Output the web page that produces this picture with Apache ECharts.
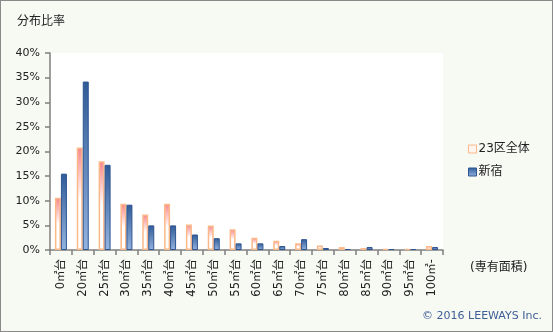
<!DOCTYPE html>
<html>
<head>
<meta charset="utf-8">
<script src="https://cdn.jsdelivr.net/npm/echarts@6/dist/echarts.min.js"></script>
<style>
  html, body { margin: 0; padding: 0; background: #f7f9f3; }
  #chart { width: 551px; height: 330px; border: 1px solid #8a8a8a; background: #f7f9f3; }
</style>
</head>
<body>
<div id="chart"></div>
<script>
// Floor-area bands (専有面積)
const categories = ['0㎡台', '20㎡台', '25㎡台', '30㎡台', '35㎡台', '40㎡台', '45㎡台', '50㎡台', '55㎡台',
  '60㎡台', '65㎡台', '70㎡台', '75㎡台', '80㎡台', '85㎡台', '90㎡台', '95㎡台', '100㎡-'];

// Share of units per band, in percent
const ward23Values = [10.6, 20.8, 18.0, 9.4, 7.2, 9.4, 5.2, 5.0, 4.2, 2.5, 1.9, 1.35, 0.9, 0.6, 0.4, 0.2, 0.2, 0.8];
const shinjukuValues = [15.5, 34.2, 17.3, 9.2, 5.0, 5.0, 3.15, 2.4, 1.35, 1.35, 0.8, 2.2, 0.4, 0.2, 0.6, 0.2, 0.2, 0.6];

const yTicks = { min: 0, max: 40, interval: 5 };

const font = "'DejaVu Sans', 'Noto Sans CJK JP', sans-serif";

const chart = echarts.init(document.getElementById('chart'), null, { renderer: 'canvas' });

const pinkFill = new echarts.graphic.LinearGradient(0, 0, 0, 1, [
  { offset: 0, color: '#f8868a' },
  { offset: 0.5, color: '#ffffff' },
  { offset: 1, color: '#ffffff' }
]);
const blueFill = new echarts.graphic.LinearGradient(0, 0, 0, 1, [
  { offset: 0, color: '#2f5b98' },
  { offset: 1, color: '#94b3df' }
]);

chart.setOption({
  animation: false,
  backgroundColor: '#f7f9f3',
  textStyle: { fontFamily: font },
  title: {
    text: '分布比率',
    left: 11, top: 10,
    textStyle: { fontSize: 12, fontWeight: 'normal', color: '#222', fontFamily: font }
  },
  legend: {
    orient: 'vertical',
    left: 462, top: 137,
    itemWidth: 8, itemHeight: 8,
    itemGap: 11,
    textStyle: { fontSize: 12, color: '#222', fontFamily: font, padding: [0, 0, 0, -3] },
    data: [
      { name: '23区全体', icon: 'rect', itemStyle: { color: '#fff4ee', borderColor: '#fbb98a', borderWidth: 1 } },
      { name: '新宿', icon: 'rect', itemStyle: { color: blueFill, borderColor: '#2f5590', borderWidth: 1 } }
    ]
  },
  grid: { left: 49, right: 109, top: 52, bottom: 81, backgroundColor: '#ffffff', show: true, borderWidth: 0 },
  xAxis: {
    type: 'category',
    data: categories,
    axisLine: { lineStyle: { color: '#808080', width: 1.5 } },
    axisTick: { show: true, length: 5, alignWithLabel: false, lineStyle: { color: '#808080', width: 1.5 } },
    axisLabel: { rotate: 90, fontSize: 11.5, color: '#222', margin: 9, fontFamily: font, interval: 0 }
  },
  yAxis: {
    type: 'value',
    min: yTicks.min, max: yTicks.max, interval: yTicks.interval,
    splitLine: { show: false },
    axisLine: { show: true, lineStyle: { color: '#808080', width: 1.5 } },
    axisTick: { show: true, length: 5, lineStyle: { color: '#808080', width: 1.5 } },
    axisLabel: { formatter: '{value}%', fontSize: 11, color: '#222', margin: 10, fontFamily: font }
  },
  series: [
    {
      name: '23区全体',
      type: 'bar',
      data: ward23Values,
      barWidth: 6,
      barGap: '0%',
      itemStyle: { color: pinkFill, borderColor: '#fbb98a', borderWidth: 1.5 }
    },
    {
      name: '新宿',
      type: 'bar',
      data: shinjukuValues,
      barWidth: 6,
      itemStyle: { color: blueFill, borderColor: '#2f5590', borderWidth: 1 }
    }
  ],
  graphic: [
    {
      type: 'text', left: 469, top: 261,
      style: { text: '(専有面積)', fontSize: 12, fill: '#222', fontFamily: font }
    },
    {
      type: 'text', right: 10, top: 310,
      style: { text: '© 2016 LEEWAYS Inc.', fontSize: 11, fill: '#3d5f95', fontFamily: font }
    }
  ]
});
</script>
</body>
</html>
